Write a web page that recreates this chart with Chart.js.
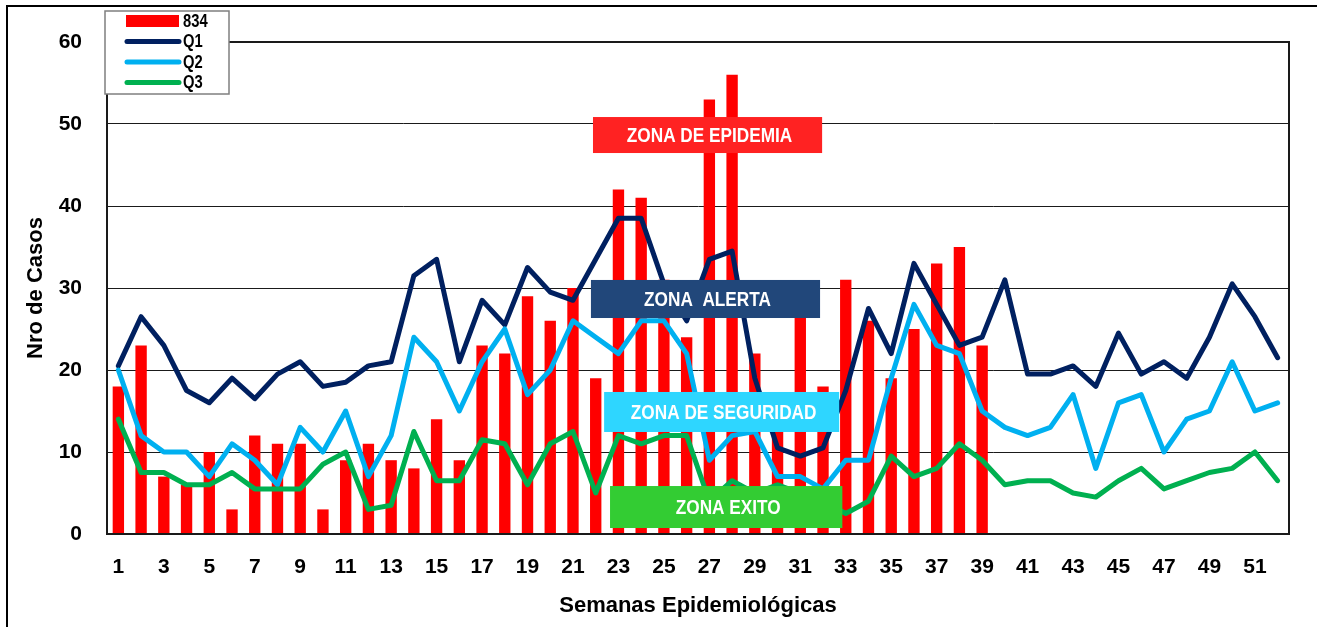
<!DOCTYPE html>
<html>
<head>
<meta charset="utf-8">
<script src="https://cdn.jsdelivr.net/npm/chart.js@4"></script>
<style>
  html, body { margin: 0; padding: 0; background: #fff; }
  #wrap { position: absolute; left: 0; top: 0; width: 1317px; height: 627px; }
</style>
</head>
<body>
<div id="wrap"><canvas id="canal"></canvas></div>
<script>
// ----- Data -----
const weeks = [];
for (let i = 1; i <= 52; i++) weeks.push(String(i));

// casos 2019 (hasta SE 39)
const cases834 = [18, 23, 7, 6, 10, 3, 12, 11, 11, 3, 9, 11, 9, 8, 14, 9, 23, 22, 29, 26,
  30, 19, 42, 41, 31, 24, 53, 56, 22, 13, 28, 18, 31, 26, 19, 25, 33, 35, 23];

const q1 = [20.5, 26.5, 23, 17.5, 16, 19, 16.5, 19.5, 21, 18, 18.5, 20.5, 21, 31.5, 33.5, 21,
  28.5, 25.5, 32.5, 29.5, 28.5, 33.5, 38.5, 38.5, 30.5, 26, 33.5, 34.5, 19, 10.5, 9.5, 10.5,
  17.5, 27.5, 22, 33, 28, 23, 24, 31, 19.5, 19.5, 20.5, 18, 24.5, 19.5, 21, 19, 24, 30.5, 26.5, 21.5];

const q2 = [20, 12, 10, 10, 7, 11, 9, 6, 13, 10, 15, 7, 12, 24, 21, 15, 21, 25, 17, 20,
  26, 24, 22, 26, 26, 22, 9, 12, 12.5, 7, 7, 5.5, 9, 9, 19, 28, 23, 22, 15, 13,
  12, 13, 17, 8, 16, 17, 10, 14, 15, 21, 15, 16];

const q3 = [14, 7.5, 7.5, 6, 6, 7.5, 5.5, 5.5, 5.5, 8.5, 10, 3, 3.5, 12.5, 6.5, 6.5, 11.5, 11, 6, 11,
  12.5, 5, 12, 11, 12, 12, 4, 6.5, 5, 6, 5, 4, 2.5, 4, 9.5, 7, 8, 11, 9, 6,
  6.5, 6.5, 5, 4.5, 6.5, 8, 5.5, 6.5, 7.5, 8, 10, 6.5];

const yTicks = [0, 10, 20, 30, 40, 50, 60];

// zone labels, in axis units (x = category index, y = cases)
const zones = [
  { text: 'ZONA DE EPIDEMIA', color: '#ff2222', x0: 20.88, x1: 30.96, y0: 50.85, y1: 46.46 },
  { text: 'ZONA  ALERTA', color: '#21477a', x0: 20.79, x1: 30.87, y0: 30.98, y1: 26.34 },
  { text: 'ZONA DE SEGURIDAD', color: '#2ed6ff', x0: 21.37, x1: 31.71, y0: 17.32, y1: 12.44 },
  { text: 'ZONA EXITO', color: '#33cc33', x0: 21.63, x1: 31.85, y0: 5.85, y1: 0.73 }
];

const FONT = "'Liberation Sans', Arial, sans-serif";
const NARROW = 0.82; // squeeze for Arial Narrow look

// ----- Plugins -----
const framePlugin = {
  id: 'frame',
  beforeDraw(chart) {
    const ctx = chart.ctx;
    ctx.save();
    ctx.fillStyle = '#fff';
    ctx.fillRect(0, 0, chart.width, chart.height);
    ctx.strokeStyle = '#000';
    ctx.lineWidth = 2;
    ctx.beginPath();
    ctx.moveTo(7, chart.height);
    ctx.lineTo(7, 6);
    ctx.lineTo(chart.width, 6);
    ctx.stroke();
    ctx.restore();
  },
  afterDatasetsDraw(chart) {
    const { ctx, chartArea: a } = chart;
    ctx.save();
    ctx.strokeStyle = '#1a1a1a';
    ctx.lineWidth = 2;
    ctx.strokeRect(a.left, a.top, a.right - a.left, a.bottom - a.top);
    ctx.restore();
  }
};

function narrowText(ctx, text, x, y) {
  ctx.save();
  ctx.translate(x, y);
  ctx.scale(NARROW, 1);
  ctx.fillText(text, 0, 0);
  ctx.restore();
}

const zonePlugin = {
  id: 'zones',
  afterDatasetsDraw(chart) {
    const { ctx, scales: { x, y } } = chart;
    ctx.save();
    ctx.font = 'bold 21px ' + FONT;
    ctx.textAlign = 'center';
    ctx.textBaseline = 'middle';
    zones.forEach(z => {
      const l = x.getPixelForValue(z.x0), r = x.getPixelForValue(z.x1);
      const t = y.getPixelForValue(z.y0), b = y.getPixelForValue(z.y1);
      ctx.fillStyle = z.color;
      ctx.fillRect(l, t, r - l, b - t);
      ctx.fillStyle = '#fff';
      narrowText(ctx, z.text, (l + r) / 2 + 2, (t + b) / 2 + 1);
    });
    ctx.restore();
  }
};

const legendPlugin = {
  id: 'boxLegend',
  afterDraw(chart) {
    const ctx = chart.ctx;
    ctx.save();
    ctx.fillStyle = '#fff';
    ctx.fillRect(105, 11, 124, 83);
    ctx.strokeStyle = '#7f7f7f';
    ctx.lineWidth = 1.5;
    ctx.strokeRect(105, 11, 124, 83);
    ctx.font = 'bold 18px ' + FONT;
    ctx.textBaseline = 'middle';
    chart.data.datasets.forEach((ds, i) => {
      const cy = 21 + i * 20.5;
      if (ds.type === 'bar') {
        ctx.fillStyle = ds.backgroundColor;
        ctx.fillRect(126, cy - 6, 53, 12);
      } else {
        ctx.strokeStyle = ds.borderColor;
        ctx.lineWidth = 5;
        ctx.lineCap = 'round';
        ctx.beginPath();
        ctx.moveTo(127, cy);
        ctx.lineTo(179, cy);
        ctx.stroke();
      }
      ctx.fillStyle = '#000';
      narrowText(ctx, ds.label, 183, cy + 1);
    });
    ctx.restore();
  }
};

// ----- Chart -----
const lineDefaults = {
  type: 'line',
  borderWidth: 5,
  pointRadius: 0,
  tension: 0,
  fill: false,
  borderJoinStyle: 'round',
  borderCapStyle: 'round'
};

new Chart(document.getElementById('canal'), {
  data: {
    labels: weeks,
    datasets: [
      { type: 'bar', label: '834', data: cases834, backgroundColor: '#ff0000',
        barPercentage: 0.5, categoryPercentage: 1.0, order: 10 },
      { ...lineDefaults, label: 'Q1', data: q1, borderColor: '#002060', order: 3 },
      { ...lineDefaults, label: 'Q2', data: q2, borderColor: '#00b0f0', order: 2 },
      { ...lineDefaults, label: 'Q3', data: q3, borderColor: '#00b050', order: 1 }
    ]
  },
  options: {
    responsive: true,
    maintainAspectRatio: false,
    animation: false,
    layout: { padding: { top: 42, right: 28, bottom: 0, left: 0 } },
    plugins: {
      legend: { display: false },
      tooltip: { enabled: false }
    },
    scales: {
      x: {
        grid: { display: false, drawTicks: false },
        border: { display: true, color: '#1a1a1a', width: 2 },
        ticks: {
          color: '#000',
          font: { family: FONT, size: 21, weight: 'bold' },
          autoSkip: false,
          maxRotation: 0,
          padding: 21,
          callback: (v, i) => (i % 2 === 0 ? weeks[i] : '')
        },
        title: {
          display: true,
          text: 'Semanas Epidemiológicas',
          color: '#000',
          font: { family: FONT, size: 22, weight: 'bold' },
          padding: { top: 0, bottom: 8 }
        },
        afterFit: s => { s.height = 93; }
      },
      y: {
        min: 0,
        max: 60,
        grid: { color: '#1a1a1a', lineWidth: 1, drawTicks: false },
        border: { display: true, color: '#1a1a1a', width: 2 },
        afterBuildTicks: s => { s.ticks = yTicks.map(v => ({ value: v })); },
        ticks: {
          color: '#000',
          font: { family: FONT, size: 21, weight: 'bold' },
          padding: 25
        },
        title: {
          display: true,
          text: 'Nro de Casos',
          color: '#000',
          font: { family: FONT, size: 22, weight: 'bold' },
          padding: { top: 23, bottom: 0 }
        },
        afterFit: s => { s.width = 107; }
      }
    }
  },
  plugins: [framePlugin, zonePlugin, legendPlugin]
});
</script>
</body>
</html>
